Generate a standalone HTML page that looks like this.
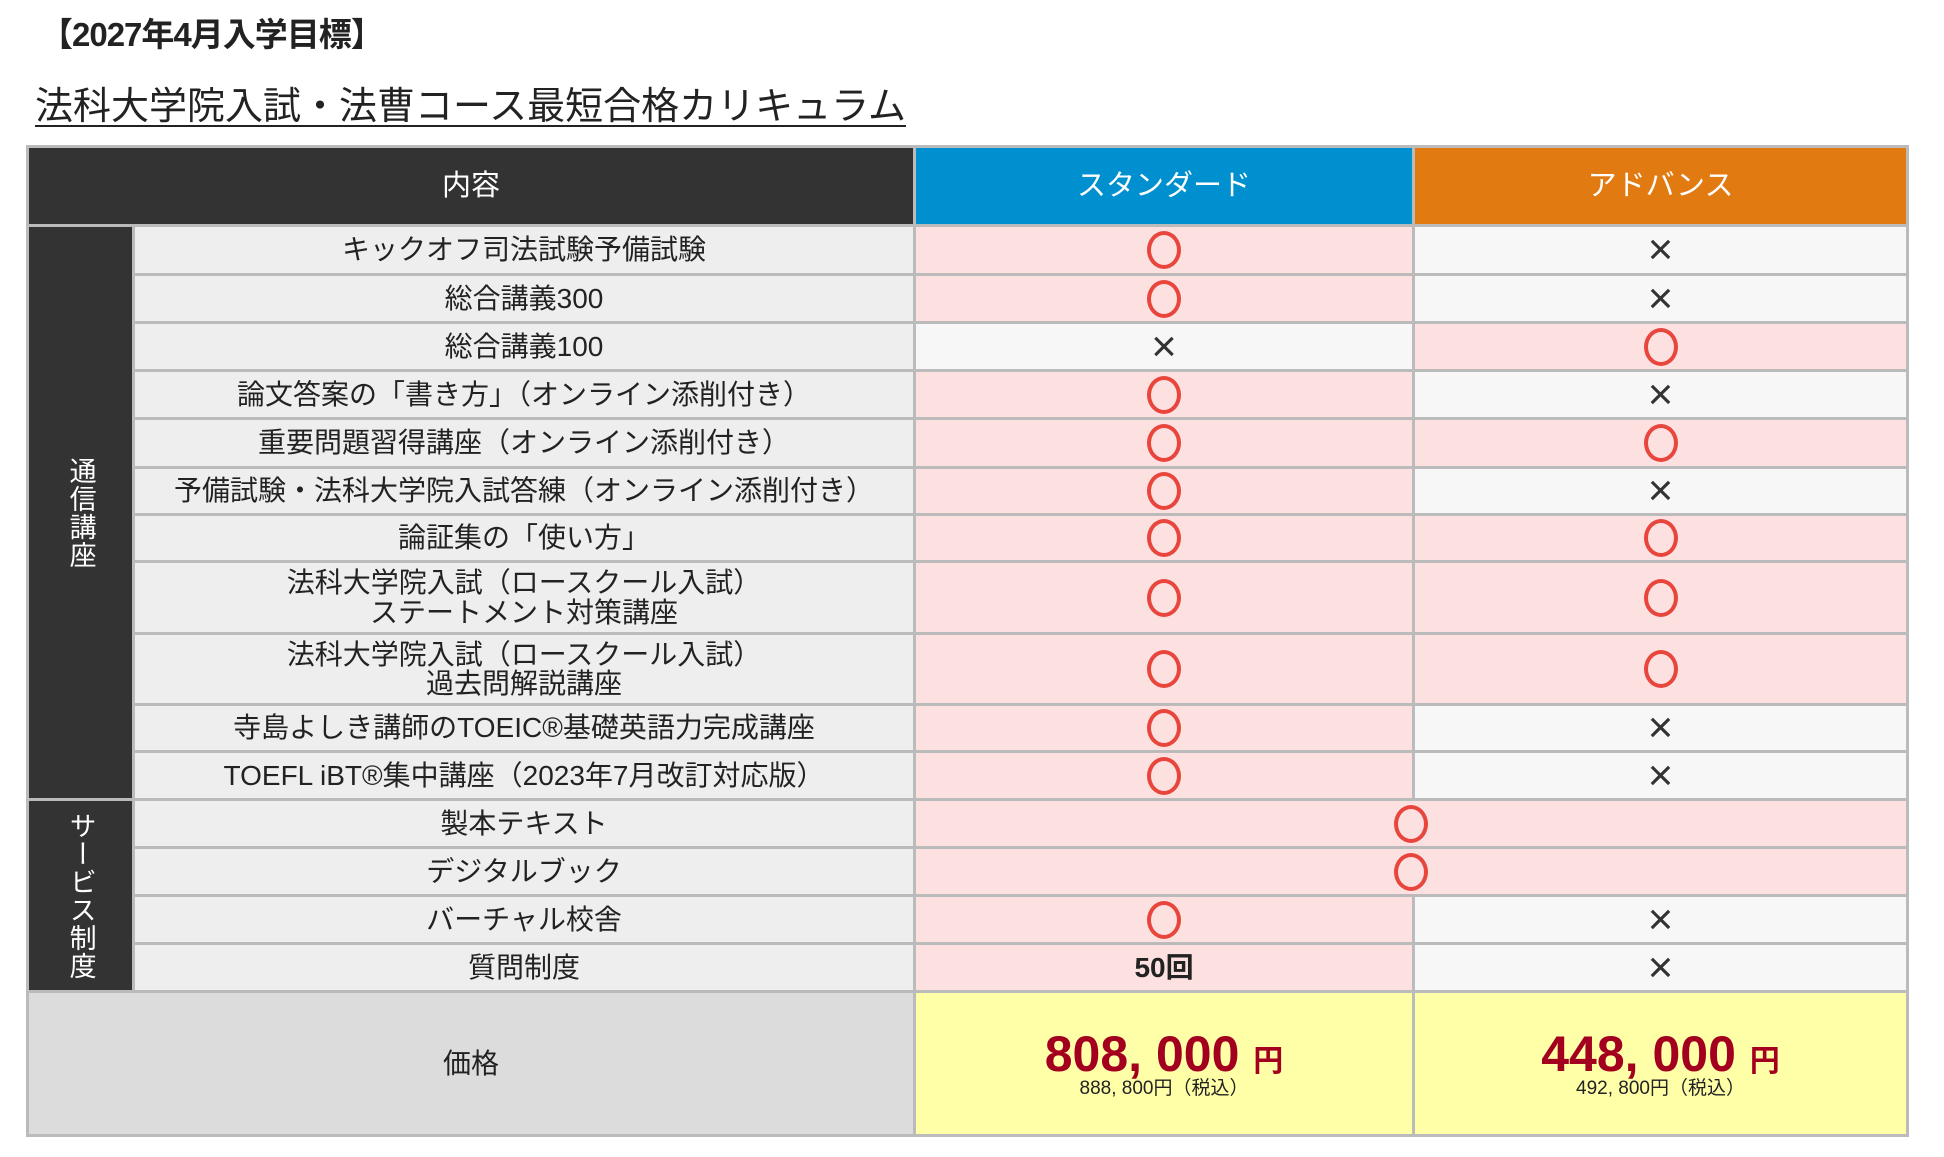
<!DOCTYPE html>
<html><head><meta charset="utf-8"><style>
body{margin:0;width:1944px;height:1157px;background:#fff;font-family:"Liberation Sans","Noto Sans CJK JP",sans-serif;position:relative;overflow:hidden;color:#222}
.t1{position:absolute;left:40px;top:8px;font-size:33px;font-weight:bold;letter-spacing:-1px}
.t2{position:absolute;left:35px;top:75px;font-size:38px;text-decoration:underline;text-underline-offset:6px;text-decoration-thickness:2px}
table{position:absolute;left:26px;top:145px;border-collapse:collapse;table-layout:fixed;width:1880px}
td{border:3px solid #bbb;text-align:center;vertical-align:middle;padding:0;font-size:28px;line-height:1.05}
.h td{height:76px;color:#fff;font-size:29px}
.side{background:#333;color:#fff;writing-mode:vertical-rl;font-size:27px;letter-spacing:1px;border-color:#bbb}
.c{background:#eeeeee}
.p{background:#fde0e0}
.w{background:#f7f7f7}
.o{display:inline-block;width:26px;height:30px;border:4px solid #e8453c;border-radius:50%;vertical-align:middle}
.x{font-size:44px;color:#333;font-weight:300;line-height:0.8}
</style></head><body>
<div class="t1">【2027年4月入学目標】</div>
<div class="t2">法科大学院入試・法曹コース最短合格カリキュラム</div>
<table>
<colgroup><col style="width:106px"><col style="width:781px"><col style="width:499px"><col style="width:494px"></colgroup>
<tr class="h"><td colspan="2" style="background:#333">内容</td><td style="background:#0090cf">スタンダード</td><td style="background:#e27a12">アドバンス</td></tr>
<tr style="height:49px"><td class="side" rowspan="11">通信講座</td><td class="c">キックオフ司法試験予備試験</td><td class="p"><span class="o"></span></td><td class="w x">×</td></tr>
<tr style="height:48px"><td class="c">総合講義300</td><td class="p"><span class="o"></span></td><td class="w x">×</td></tr>
<tr style="height:48px"><td class="c">総合講義100</td><td class="w x">×</td><td class="p"><span class="o"></span></td></tr>
<tr style="height:48px"><td class="c">論文答案の「書き方」（オンライン添削付き）</td><td class="p"><span class="o"></span></td><td class="w x">×</td></tr>
<tr style="height:49px"><td class="c">重要問題習得講座（オンライン添削付き）</td><td class="p"><span class="o"></span></td><td class="p"><span class="o"></span></td></tr>
<tr style="height:47px"><td class="c">予備試験・法科大学院入試答練（オンライン添削付き）</td><td class="p"><span class="o"></span></td><td class="w x">×</td></tr>
<tr style="height:47px"><td class="c">論証集の「使い方」</td><td class="p"><span class="o"></span></td><td class="p"><span class="o"></span></td></tr>
<tr style="height:72px"><td class="c">法科大学院入試（ロースクール入試）<br>ステートメント対策講座</td><td class="p"><span class="o"></span></td><td class="p"><span class="o"></span></td></tr>
<tr style="height:71px"><td class="c">法科大学院入試（ロースクール入試）<br>過去問解説講座</td><td class="p"><span class="o"></span></td><td class="p"><span class="o"></span></td></tr>
<tr style="height:47px"><td class="c">寺島よしき講師のTOEIC®基礎英語力完成講座</td><td class="p"><span class="o"></span></td><td class="w x">×</td></tr>
<tr style="height:48px"><td class="c">TOEFL iBT®集中講座（2023年7月改訂対応版）</td><td class="p"><span class="o"></span></td><td class="w x">×</td></tr>
<tr style="height:48px"><td class="side" rowspan="4">サービス制度</td><td class="c">製本テキスト</td><td class="p" colspan="2"><span class="o"></span></td></tr>
<tr style="height:48px"><td class="c">デジタルブック</td><td class="p" colspan="2"><span class="o"></span></td></tr>
<tr style="height:48px"><td class="c">バーチャル校舎</td><td class="p"><span class="o"></span></td><td class="w x">×</td></tr>
<tr style="height:48px"><td class="c">質問制度</td><td class="p" style="font-weight:bold">50回</td><td class="w x">×</td></tr>
<tr style="height:144px"><td colspan="2" style="background:#dcdcdc">価格</td>
<td style="background:#ffffa8"><div style="color:#a3001f;font-weight:bold;font-size:50px;line-height:1">808, 000 <span style="font-size:30px">円</span></div><div style="font-size:19px">888, 800円（税込）</div></td>
<td style="background:#ffffa8"><div style="color:#a3001f;font-weight:bold;font-size:50px;line-height:1">448, 000 <span style="font-size:30px">円</span></div><div style="font-size:19px">492, 800円（税込）</div></td></tr>
</table>
</body></html>
